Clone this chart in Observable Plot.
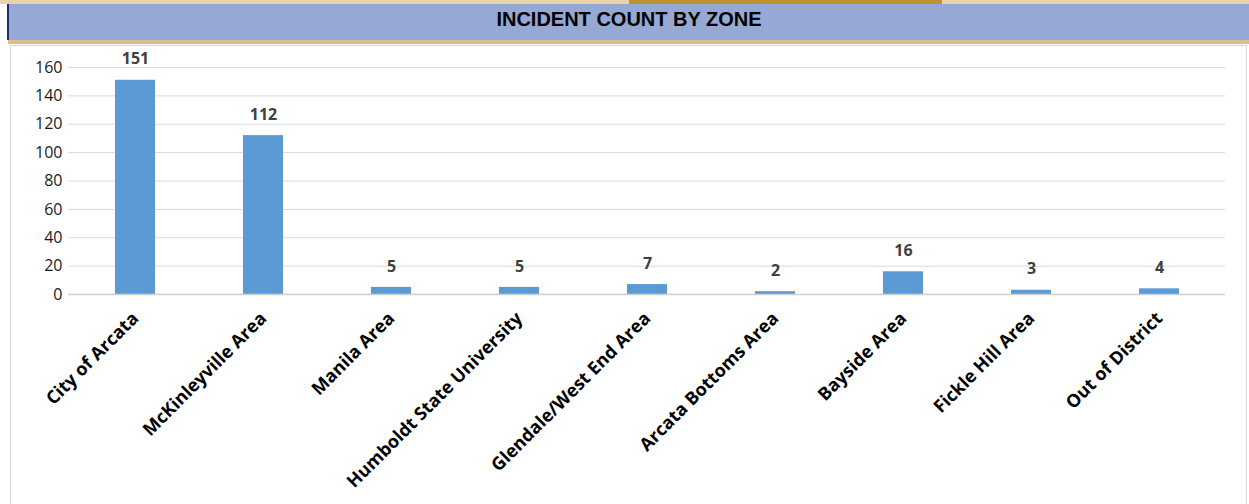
<!DOCTYPE html>
<html>
<head>
<meta charset="utf-8">
<script src="https://cdn.jsdelivr.net/npm/d3@7"></script>
<script src="https://cdn.jsdelivr.net/npm/@observablehq/plot@0.6"></script>
<style>
  html, body { margin: 0; padding: 0; background: #fff; width: 1249px; height: 504px; overflow: hidden; }
  #top { position: absolute; left: 0; top: 0; width: 1249px; height: 4px; background: #e9d3a8; }
  #tab { position: absolute; left: 629px; top: 0; width: 313px; height: 4px; background: #c0922e; }
  #title { position: absolute; left: 7px; top: 4px; width: 1242px; height: 36px; background: #95a9d4;
           border-left: 2px solid #1f2b6e; box-sizing: border-box;
           font-family: "Liberation Sans Narrow", "Liberation Sans", Arial, sans-serif; font-weight: bold; font-size: 20px; color: #000;
           text-align: center; line-height: 30px; }
  #tbar { position: absolute; left: 8px; top: 40px; width: 1241px; height: 4px; background: #d9bf8c; }
  #chart { position: absolute; left: 10px; top: 45px; width: 1237px; height: 470px; border: 1px solid #d9d9d9; box-sizing: border-box; }
  #svgwrap { position: absolute; left: 0; top: 45px; }
</style>
</head>
<body>
<div id="top"></div>
<div id="tab"></div>
<div id="title">INCIDENT COUNT BY ZONE</div>
<div id="tbar"></div>
<div id="chart"></div>
<div id="svgwrap"></div>
<script>
const zones = ["City of Arcata", "McKinleyville Area", "Manila Area", "Humboldt State University",
  "Glendale/West End Area", "Arcata Bottoms Area", "Bayside Area", "Fickle Hill Area", "Out of District"];
const counts = [151, 112, 5, 5, 7, 2, 16, 3, 4];
const yTicks = [0, 20, 40, 60, 80, 100, 120, 140, 160];

const data = zones.map((z, i) => ({zone: z, count: counts[i]}));

const chart = Plot.plot({
  width: 1249,
  height: 459,
  marginLeft: 68,
  marginRight: 24,
  marginTop: 22,
  marginBottom: 210,
  style: {fontFamily: "'Open Sans', sans-serif", background: "transparent", overflow: "visible"},
  x: {domain: zones, paddingInner: 0.69, paddingOuter: 0.345, label: null},
  y: {domain: [0, 160], label: null},
  marks: [
    Plot.gridY(yTicks, {stroke: "#d9d9d9", strokeOpacity: 1, strokeWidth: 1}),
    Plot.axisY(yTicks, {tickSize: 0, tickPadding: 6, fontSize: 16, fill: "#1a1a1a", label: null}),
    Plot.barY(data, {x: "zone", y: "count", fill: "#5b9bd5"}),
    Plot.ruleY([0], {stroke: "#d0d0d0", strokeWidth: 1.5}),
    Plot.text(data, {x: "zone", y: "count", text: d => String(d.count), dy: -21, fontWeight: "bold", fontSize: 16, fill: "#404040"}),
    Plot.axisX({tickSize: 0, tickPadding: 21, tickRotate: -45, fontSize: 18, fontWeight: "bold", fill: "#000", label: null})
  ]
});
document.getElementById("svgwrap").appendChild(chart);
</script>
</body>
</html>
